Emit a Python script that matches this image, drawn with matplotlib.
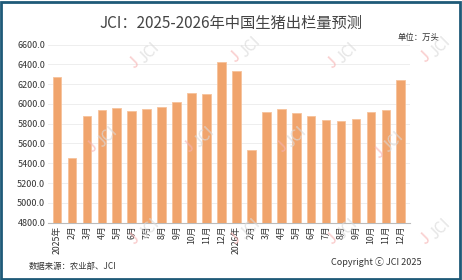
import numpy as np
import matplotlib.pyplot as plt
from matplotlib.patches import Rectangle

plt.rcParams['font.family'] = ['Noto Sans CJK SC', 'DejaVu Sans']

months = ['2025年', '2月', '3月', '4月', '5月', '6月', '7月', '8月', '9月', '10月', '11月', '12月',
          '2026年', '2月', '3月', '4月', '5月', '6月', '7月', '8月', '9月', '10月', '11月', '12月']
output = [6268, 5455, 5873, 5934, 5958, 5932, 5948, 5964, 6015, 6113, 6100, 6425,
          6330, 5532, 5920, 5951, 5910, 5877, 5839, 5826, 5850, 5917, 5934, 6242]

fig = plt.figure(figsize=(4.62, 2.80), dpi=100)
ax = fig.add_axes([0.104, 0.205, 0.783, 0.636])

x = np.arange(len(months))
ax.bar(x, output, width=0.58, color='#F0A46C', edgecolor='#F6C29B', linewidth=0.6, zorder=3)
ax.set_ylim(4800, 6600)
ax.set_yticks(np.arange(4800, 6601, 200))
ax.set_yticklabels([f'{v:.1f}' for v in np.arange(4800, 6601, 200)], fontsize=6.5, color='#333333')
ax.set_xticks(x)
ax.set_xticklabels(months, rotation=90, fontsize=6.3, color='#333333')
ax.set_xlim(-0.6, len(months) - 0.4)
ax.grid(axis='y', color='#EBEBEB', linewidth=0.6, zorder=0)
for s in ['top', 'right', 'left']:
    ax.spines[s].set_visible(False)
ax.spines['bottom'].set_color('#BBBBBB')
ax.tick_params(length=0, pad=2)

# watermarks
for wx, wy in [(0.31, 0.80), (0.53, 0.82), (0.74, 0.80), (0.94, 0.82),
               (0.22, 0.50), (0.43, 0.50), (0.63, 0.50), (0.84, 0.48),
               (0.31, 0.17), (0.53, 0.17), (0.74, 0.17), (0.94, 0.17)]:
    fig.text(wx - 0.02, wy - 0.025, 'J', fontsize=11, color='#F7B3B3', rotation=45,
             ha='center', va='center', alpha=0.7, zorder=5)
    fig.text(wx + 0.012, wy + 0.012, 'JCI', fontsize=11, color='#DADADA', rotation=45,
             ha='center', va='center', alpha=0.7, zorder=5)

fig.text(0.5, 0.915, 'JCI：2025-2026年中国生猪出栏量预测', fontsize=11, color='#444444',
         fontweight='medium', ha='center', va='center')
fig.text(0.905, 0.865, '单位：万头', fontsize=6, color='#333333', ha='center', va='center')
fig.text(0.062, 0.05, '数据来源：农业部、JCI', fontsize=6, color='#333333', ha='left', va='center')
fig.text(0.913, 0.063, 'Copyright ⓒ JCI 2025', fontsize=6.5, color='#333333', ha='right', va='center')

fig.patches.append(Rectangle((0.002, 0.004), 0.993, 0.99, transform=fig.transFigure,
                             fill=False, edgecolor='#1E5A78', linewidth=2))

fig.savefig('out.png', dpi=100)
